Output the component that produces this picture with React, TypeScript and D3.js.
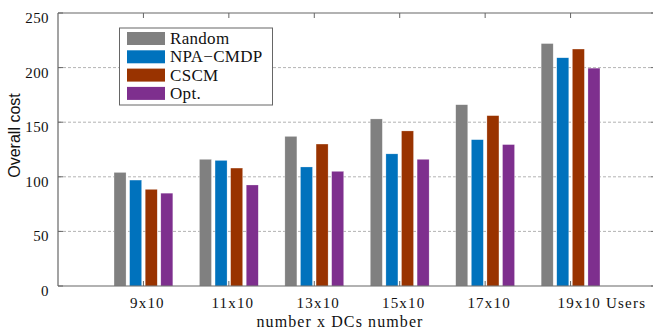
import React from 'react';
import * as d3 from 'd3';

const categories = ['9x10', '11x10', '13x10', '15x10', '17x10', '19x10'];
const series = ['Random', 'NPA\u2212CMDP', 'CSCM', 'Opt.'];
const randomCost = [104, 116, 137, 153, 166, 222];
const npaCost = [97, 115, 109, 121, 134, 209];
const cscmCost = [88.5, 108, 130, 142, 156, 217];
const optCost = [85, 92.5, 105, 116, 129.5, 199.5];
const yTicks = [0, 50, 100, 150, 200, 250];
const colors = ['#808080', '#0072BD', '#993300', '#7E2F8E'];

const width = 653;
const height = 329;

const App = () => {
  const values = [randomCost, npaCost, cscmCost, optCost];

  const x = d3.scaleLinear().domain([0, 7]).range([58, 656]);
  const y = d3.scaleLinear().domain([0, 250]).range([286, 13]);
  const inner = d3.scaleBand().domain(series).range([-29.4, 29.4]).paddingInner(0.23);

  const axisColor = '#666';
  const serif = '"Liberation Serif", "Times New Roman", serif';

  return (
    <svg width={width} height={height} style={{ position: 'absolute', left: 0, top: 0, background: '#fff' }}>
      {/* grid */}
      {yTicks.filter((t) => t > 0 && t < 250).map((t) => (
        <line key={'g' + t} x1={x(0)} x2={x(7)} y1={y(t)} y2={y(t)}
          stroke="#a0a0a0" strokeWidth={0.8} strokeDasharray="3,2" />
      ))}

      {/* bars */}
      {categories.map((c, i) => (
        <g key={c}>
          {series.map((s, j) => {
            const v = values[j][i];
            return (
              <rect key={s} x={x(i + 1) + (inner(s) as number)} y={y(v)}
                width={inner.bandwidth()} height={y(0) - y(v)}
                fill={colors[j]} stroke="#fff" strokeOpacity={0.5} strokeWidth={0.5} />
            );
          })}
        </g>
      ))}

      {/* frame */}
      <line x1={x(0)} x2={x(7)} y1={y(250)} y2={y(250)} stroke={axisColor} strokeWidth={1.2} />
      <line x1={x(0)} x2={x(7)} y1={y(0)} y2={y(0)} stroke={axisColor} strokeWidth={1.2} />
      <line x1={x(0)} x2={x(0)} y1={y(0)} y2={y(250)} stroke={axisColor} strokeWidth={1.2} />
      <line x1={x(7)} x2={x(7)} y1={y(0)} y2={y(250)} stroke={axisColor} strokeWidth={1.2} />

      {/* x ticks */}
      {categories.map((c, i) => (
        <g key={'xt' + c}>
          <line x1={x(i + 1)} x2={x(i + 1)} y1={y(250)} y2={y(250) + 5} stroke={axisColor} />
          <line x1={x(i + 1)} x2={x(i + 1)} y1={y(0)} y2={y(0) - 5} stroke={axisColor} />
          {i < categories.length - 1 ? (
            <text x={x(i + 1) + 4} y={308} textAnchor="middle" fontFamily={serif}
              fontSize={15} letterSpacing={1.2} fill="#111">{c}</text>
          ) : (
            <text x={x(i + 1) - 13} y={308} textAnchor="start" fontFamily={serif}
              fontSize={15} letterSpacing={1.2} fill="#111">{c + ' Users'}</text>
          )}
        </g>
      ))}

      {/* y ticks */}
      {yTicks.map((t) => (
        <g key={'yt' + t}>
          <line x1={x(0)} x2={x(0) + 5} y1={y(t)} y2={y(t)} stroke={axisColor} />
          <line x1={x(7)} x2={x(7) - 5} y1={y(t)} y2={y(t)} stroke={axisColor} />
          <text x={49} y={y(t) + 10} textAnchor="end" fontFamily={serif}
            fontSize={15} letterSpacing={0.4} fill="#111">{t}</text>
        </g>
      ))}

      {/* axis labels */}
      <text transform="translate(20,135.5) rotate(-90)" textAnchor="middle"
        fontFamily='"Liberation Sans", Arial, sans-serif' fontSize={16} fill="#111">Overall cost</text>
      <text x={340} y={327} textAnchor="middle" fontFamily={serif} fontSize={16}
        letterSpacing={1.1} fill="#111">number x DCs number</text>

      {/* legend */}
      <rect x={119.5} y={28} width={153} height={77} fill="#fff" stroke={axisColor} strokeWidth={1} />
      {series.map((s, j) => (
        <g key={'lg' + s}>
          <rect x={127} y={32 + j * 18.3} width={38} height={13} fill={colors[j]} />
          <text x={170} y={32 + j * 18.3 + 12} fontFamily={serif} fontSize={17}
            letterSpacing={0.3} fill="#111">{s}</text>
        </g>
      ))}
    </svg>
  );
};

export default App;
